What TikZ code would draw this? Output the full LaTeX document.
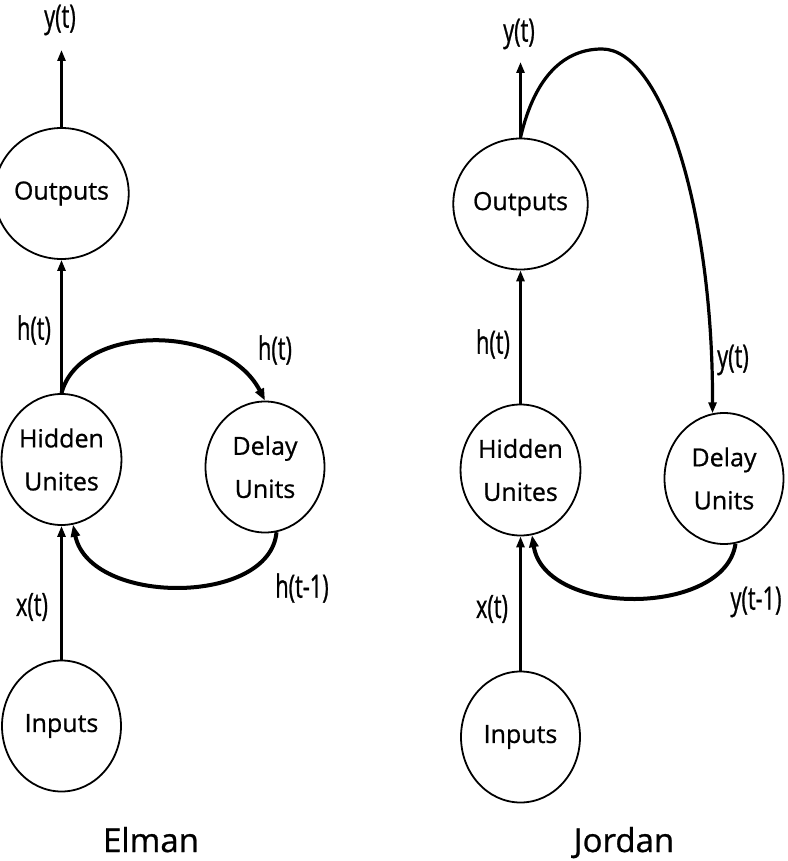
\documentclass[tikz,border=0pt]{standalone}
\usepackage{fontspec}
\setmainfont{Open Sans}[FakeBold=0.8]
\newfontfamily\lblfont[FakeStretch=0.68,FakeBold=0.8]{Open Sans}
\usetikzlibrary{shapes.geometric,arrows.meta}
\begin{document}
\begin{tikzpicture}[x=1pt,y=-1pt,
  unit/.style={draw,line width=1.8pt,ellipse,inner sep=0pt,minimum width=119pt,minimum height=131pt,align=center,font=\fontsize{25}{43}\selectfont},
  lbl/.style={font=\lblfont\fontsize{32}{36}\selectfont,inner sep=0pt},
  ttl/.style={font=\fontsize{33}{38}\selectfont,inner sep=0pt,anchor=base},
  sarr/.style={line width=2.6pt,-{Triangle[length=11pt,width=8pt]}},
  carr/.style={line width=4pt,-{Triangle[length=12pt,width=9pt]}}]
\useasboundingbox (0,0) rectangle (787,861);
% ---------- Elman ----------
\node[unit] (outE) at (61.5,193.5) {Outputs};
\node[unit] (hidE) at (61.5,459.5) {Hidden\\Unites};
\node[unit] (delE) at (265,467) {Delay\\Units};
\node[unit] (inE) at (61.5,726) {Inputs};
\coordinate (yE) at (61.5,50);
\node[lbl] (lyE) at (60,20) {y(t)};
\node[lbl] (lhE) at (34,330) {h(t)};
\node[lbl] (lhE2) at (275,350) {h(t)};
\node[lbl] (lh1E) at (302,588) {h(t-1)};
\node[lbl] (lxE) at (32,607) {x(t)};
\node[ttl] (tE) at (151,852) {Elman};
\draw[sarr] (outE.north) -- (yE);
\draw[sarr] (hidE.north) -- (outE.south);
\draw[sarr] (inE.north) -- (hidE.south);
\draw[carr] (hidE.north) .. controls (80,323) and (225,323) .. (delE.north);
\draw[carr] (delE.-80) .. controls (270,606) and (90,606) .. (hidE.-80);
% ---------- Jordan ----------
\node[unit] (outJ) at (520.5,204) {Outputs};
\node[unit] (hidJ) at (520.5,470) {Hidden\\Unites};
\node[unit] (delJ) at (724,478.5) {Delay\\Units};
\node[unit] (inJ) at (520.5,737) {Inputs};
\coordinate (yJ) at (520.5,62);
\coordinate (pk) at (602,49);
\node[lbl] (lyJ) at (519,34) {y(t)};
\node[lbl] (lhJ) at (493,344) {h(t)};
\node[lbl] (lyJ2) at (733,360) {y(t)};
\node[lbl] (ly1J) at (756,602) {y(t-1)};
\node[lbl] (lxJ) at (492,609) {x(t)};
\node[ttl] (tJ) at (624,852) {Jordan};
\draw[sarr] (outJ.north) -- (yJ);
\draw[sarr] (hidJ.north) -- (outJ.south);
\draw[sarr] (inJ.north) -- (hidJ.south);
\draw[line width=3.2pt,-{Triangle[length=11pt,width=8pt]}] (outJ.north) .. controls (535,75) and (565,49) .. (pk) .. controls (662,49) and (713,210) .. (delJ.100);
\draw[carr] (delJ.-80) .. controls (725,617) and (545,617) .. (hidJ.-80);
\end{tikzpicture}
\end{document}
